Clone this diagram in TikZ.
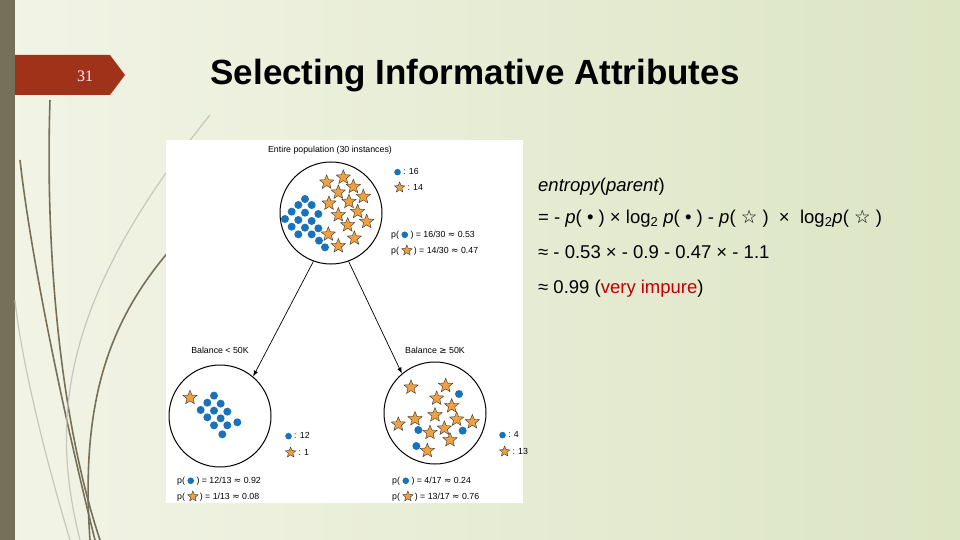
\documentclass[tikz,border=0pt]{standalone}
\usepackage{fontspec}
\setmainfont{Liberation Sans}
\newfontfamily\dv{DejaVu Sans}
\newfontfamily\serifn{Liberation Serif}
\usetikzlibrary{shapes.geometric,arrows.meta,shadings}
\definecolor{bar}{HTML}{76705A}
\definecolor{tab}{HTML}{A0321A}
\definecolor{dotc}{HTML}{1A72B8}
\definecolor{starc}{HTML}{F0A040}
\definecolor{bgl}{HTML}{F2F4E6}
\definecolor{bgr}{HTML}{DCE5C4}
\definecolor{imp}{HTML}{C00000}
\tikzset{
 dotp/.style={circle,fill=dotc,inner sep=0pt,minimum size=8pt},
 starp/.style={star,star points=5,star point ratio=2.3,fill=starc,draw=black!80,line width=0.4pt,inner sep=0pt,minimum size=15pt},
 small/.style={font=\fontsize{8.8}{10}\selectfont,inner sep=1pt},
 circ/.style={circle,draw=black,line width=1pt,minimum size=102pt,inner sep=0pt},
 deco/.style={draw=bar,line width=1.6pt},
 decol/.style={draw=bar!40,line width=1.2pt},
}
\newcommand{\mydot}{\tikz[baseline=-2.5pt]\fill[dotc](0,0) circle (3.3pt);}
\newcommand{\mystar}{\tikz[baseline=-3pt]\node[starp,minimum size=11pt]{};}
\begin{document}
\begin{tikzpicture}[x=1pt,y=-1pt]
\useasboundingbox (0,0) rectangle (960,540);
\shade[left color=bgl,right color=bgr] (0,0) rectangle (960,540);
\fill[bar] (0,0) rectangle (15,540);
% decorative curves
\draw[deco] (95,540) .. controls (60,400) and (30,250) .. (20,160);
\draw[deco] (100,540) .. controls (60,420) and (45,250) .. (50,100);
\draw[deco] (90,540) .. controls (80,400) and (110,320) .. (170,250);
\draw[decol] (80,540) .. controls (50,420) and (60,300) .. (210,115);
\draw[decol] (70,540) .. controls (40,440) and (20,350) .. (15,300);
% tab
\fill[tab] (15,55) -- (110,55) -- (125,75) -- (110,95) -- (15,95) -- cycle;
\node[text=white,font=\serifn\fontsize{16}{18}\selectfont] (num) at (85,76) {31};
\node[font=\bfseries\fontsize{35}{40}\selectfont,anchor=west] (title) at (207,76) {Selecting Informative Attributes};
% panel
\fill[white] (166,140) rectangle (523,503);
\node[small] (t0) at (330,150) {Entire population (30 instances)};
\node[circ] (c0) at (331,213) {};
\node[circ] (c1) at (220,416) {};
\node[circ] (c2) at (435,413) {};
\node[small] (t1) at (220,350) {Balance < 50K};
\node[small] (t2) at (435,350) {Balance {\dv ≥} 50K};
\draw[-{Latex[length=6pt]},line width=0.7pt] (c0.250) -- (c1.50);
\draw[-{Latex[length=6pt]},line width=0.7pt] (c0.290) -- (c2.130);
% top circle contents
\foreach \x/\y in {485/127,535/112,565/140,520/157,595/170,552/185,492/190,578/215,520/225,605/245,548/255,490/283,568/295,520/318}
  \node[starp] at ({\x/3+165},{\y/3+140}) {};
\foreach \x/\y in {420/177,400/195,440/195,380/215,420/218,460/222,360/237,400/240,440/243,380/260,420/263,460/265,400/283,440/283,462/302,480/322}
  \node[dotp] at ({\x/3+165},{\y/3+140}) {};
% left circle
\node[starp] at ({75/3+165},{203/3+330}) {};
\foreach \x/\y in {147/197,127/218,167/221,107/240,147/242,187/245,127/262,167/265,217/277,147/286,187/286,172/313}
  \node[dotp] at ({\x/3+165},{\y/3+330}) {};
% right circle
\foreach \x/\y in {738/172,842/167,815/205,860/228,700/283,750/267,810/255,875/268,922/276,795/308,838/295,855/330,787/362}
  \node[starp] at ({\x/3+165},{\y/3+330}) {};
\foreach \x/\y in {882/192,760/300,893/302,754/348}
  \node[dotp] at ({\x/3+165},{\y/3+330}) {};
% legends
\node[small,anchor=west] (l01) at (393,172) {\mydot\ : 16};
\node[small,anchor=west] (l02) at (393,187) {\mystar\ : 14};
\node[small,anchor=west] (p01) at (390,235) {p( \mydot\ ) = 16/30 {\dv ≈} 0.53};
\node[small,anchor=west] (p02) at (390,250) {p( \mystar\,) = 14/30 {\dv ≈} 0.47};
\node[small,anchor=west] (l11) at (284,436) {\mydot\ : 12};
\node[small,anchor=west] (l12) at (284,452) {\mystar\ : 1};
\node[small,anchor=west] (p11) at (176,481) {p( \mydot\ ) = 12/13 {\dv ≈} 0.92};
\node[small,anchor=west] (p12) at (176,496) {p( \mystar\,) = 1/13 {\dv ≈} 0.08};
\node[small,anchor=west] (l21) at (498,435) {\mydot\ : 4};
\node[small,anchor=west] (l22) at (498,451) {\mystar\ : 13};
\node[small,anchor=west] (p21) at (391,481) {p( \mydot\ ) = 4/17 {\dv ≈} 0.24};
\node[small,anchor=west] (p22) at (391,496) {p( \mystar\,) = 13/17 {\dv ≈} 0.76};
% formula
\begin{scope}[every node/.style={anchor=base west,inner sep=0pt,font=\fontsize{18.5}{22}\selectfont}]
\node (f1) at (538,191) {\itshape entropy\upshape(\itshape parent\upshape)};
\node (f2) at (538,223) {= - \textit{p}( • ) × log\textsubscript{2} \textit{p}( • ) - \textit{p}( {\dv ☆} ) \ × \ log\textsubscript{2}\textit{p}( {\dv ☆} )};
\node (f3) at (538,258) {≈ - 0.53 × - 0.9 - 0.47 × - 1.1};
\node (f4) at (538,293) {≈ 0.99 (\textcolor{imp}{very impure})};
\end{scope}
\end{tikzpicture}
\end{document}
